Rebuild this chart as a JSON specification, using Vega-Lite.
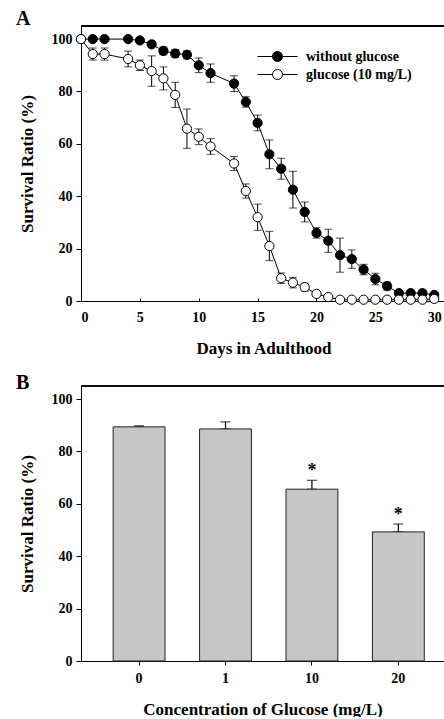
{
  "$schema": "https://vega.github.io/schema/vega-lite/v6.json",
  "padding": {"left": 16, "top": 8, "right": 0, "bottom": 0},
  "spacing": 16,
  "config": {
    "font": "Liberation Serif",
    "view": {"stroke": null},
    "axis": {
      "grid": false,
      "domainColor": "black",
      "tickColor": "black",
      "labelColor": "black",
      "titleColor": "black",
      "labelFont": "Liberation Serif",
      "titleFont": "Liberation Serif",
      "labelFontWeight": "bold",
      "titleFontWeight": "bold",
      "labelFontSize": 14,
      "titleFontSize": 17
    }
  },
  "vconcat": [
    {
      "title": {"text": "A", "anchor": "start", "frame": "group", "dx": -65, "offset": -3, "fontSize": 20, "fontWeight": "bold", "font": "Liberation Serif", "color": "black"},
      "width": 365,
      "height": 275,
      "data": {
        "values": [
          {"series": "without glucose", "day": 0, "ratio": 100, "err": 0},
          {"series": "without glucose", "day": 1, "ratio": 100, "err": 0},
          {"series": "without glucose", "day": 2, "ratio": 100, "err": 0},
          {"series": "without glucose", "day": 4, "ratio": 100, "err": 0.5},
          {"series": "without glucose", "day": 5, "ratio": 99.5, "err": 0.5},
          {"series": "without glucose", "day": 6, "ratio": 98, "err": 1},
          {"series": "without glucose", "day": 7, "ratio": 95.5, "err": 1.5},
          {"series": "without glucose", "day": 8, "ratio": 94.5, "err": 1.5},
          {"series": "without glucose", "day": 9, "ratio": 94, "err": 1.5},
          {"series": "without glucose", "day": 10, "ratio": 90, "err": 2.8},
          {"series": "without glucose", "day": 11, "ratio": 87, "err": 3.5},
          {"series": "without glucose", "day": 13, "ratio": 83, "err": 3},
          {"series": "without glucose", "day": 14, "ratio": 76, "err": 2},
          {"series": "without glucose", "day": 15, "ratio": 68, "err": 3},
          {"series": "without glucose", "day": 16, "ratio": 56, "err": 5.5},
          {"series": "without glucose", "day": 17, "ratio": 50.5, "err": 4},
          {"series": "without glucose", "day": 18, "ratio": 42.5, "err": 7},
          {"series": "without glucose", "day": 19, "ratio": 34, "err": 3.8},
          {"series": "without glucose", "day": 20, "ratio": 26, "err": 2},
          {"series": "without glucose", "day": 21, "ratio": 23, "err": 4.4},
          {"series": "without glucose", "day": 22, "ratio": 17.5, "err": 6.5},
          {"series": "without glucose", "day": 23, "ratio": 16, "err": 3.5},
          {"series": "without glucose", "day": 24, "ratio": 12, "err": 2},
          {"series": "without glucose", "day": 25, "ratio": 8.4, "err": 2.2},
          {"series": "without glucose", "day": 26, "ratio": 5.7, "err": 1.5},
          {"series": "without glucose", "day": 27, "ratio": 3, "err": 1},
          {"series": "without glucose", "day": 28, "ratio": 3, "err": 1},
          {"series": "without glucose", "day": 29, "ratio": 3, "err": 1},
          {"series": "without glucose", "day": 30, "ratio": 2.3, "err": 1},
          {"series": "glucose (10 mg/L)", "day": 0, "ratio": 100, "err": 0},
          {"series": "glucose (10 mg/L)", "day": 1, "ratio": 94.3, "err": 2.3},
          {"series": "glucose (10 mg/L)", "day": 2, "ratio": 94.3, "err": 2.3},
          {"series": "glucose (10 mg/L)", "day": 4, "ratio": 92.4, "err": 3},
          {"series": "glucose (10 mg/L)", "day": 5, "ratio": 90, "err": 2},
          {"series": "glucose (10 mg/L)", "day": 6, "ratio": 87.8, "err": 5.8},
          {"series": "glucose (10 mg/L)", "day": 7, "ratio": 85, "err": 4.4},
          {"series": "glucose (10 mg/L)", "day": 8, "ratio": 78.7, "err": 4.8},
          {"series": "glucose (10 mg/L)", "day": 9, "ratio": 65.8, "err": 7.5},
          {"series": "glucose (10 mg/L)", "day": 10, "ratio": 62.7, "err": 3},
          {"series": "glucose (10 mg/L)", "day": 11, "ratio": 59, "err": 3},
          {"series": "glucose (10 mg/L)", "day": 13, "ratio": 52.5, "err": 2.7},
          {"series": "glucose (10 mg/L)", "day": 14, "ratio": 42, "err": 2.7},
          {"series": "glucose (10 mg/L)", "day": 15, "ratio": 32, "err": 5},
          {"series": "glucose (10 mg/L)", "day": 16, "ratio": 21, "err": 5.6},
          {"series": "glucose (10 mg/L)", "day": 17, "ratio": 8.7, "err": 2},
          {"series": "glucose (10 mg/L)", "day": 18, "ratio": 7, "err": 2},
          {"series": "glucose (10 mg/L)", "day": 19, "ratio": 5.3, "err": 1.5},
          {"series": "glucose (10 mg/L)", "day": 20, "ratio": 2.7, "err": 1},
          {"series": "glucose (10 mg/L)", "day": 21, "ratio": 1.5, "err": 0.5},
          {"series": "glucose (10 mg/L)", "day": 22, "ratio": 0.5, "err": 0},
          {"series": "glucose (10 mg/L)", "day": 23, "ratio": 0.5, "err": 0},
          {"series": "glucose (10 mg/L)", "day": 24, "ratio": 0.5, "err": 0},
          {"series": "glucose (10 mg/L)", "day": 25, "ratio": 0.5, "err": 0},
          {"series": "glucose (10 mg/L)", "day": 26, "ratio": 0.5, "err": 0},
          {"series": "glucose (10 mg/L)", "day": 27, "ratio": 0.5, "err": 0},
          {"series": "glucose (10 mg/L)", "day": 28, "ratio": 0.5, "err": 0},
          {"series": "glucose (10 mg/L)", "day": 29, "ratio": 0.5, "err": 0},
          {"series": "glucose (10 mg/L)", "day": 30, "ratio": 0.8, "err": 0}
        ]
      },
      "layer": [
        {
          "mark": {"type": "rule", "stroke": "black", "strokeWidth": 1},
          "encoding": {"y": {"datum": 105, "type": "quantitative", "title": "Survival Ratio (%)", "scale": {"domain": [0, 105], "nice": false}}}
        },
        {
          "mark": {"type": "line", "stroke": "black", "strokeWidth": 1},
          "encoding": {
            "x": {"field": "day", "type": "quantitative", "title": "Days in Adulthood", "scale": {"domain": [0, 31], "nice": false},
              "axis": {"values": [0, 5, 10, 15, 20, 25, 30], "tickSize": -3, "labelPadding": 12, "titlePadding": 16}},
            "y": {"field": "ratio", "type": "quantitative", "title": "Survival Ratio (%)", "scale": {"domain": [0, 105], "nice": false},
              "axis": {"values": [0, 20, 40, 60, 80, 100], "tickSize": 5, "labelPadding": 4, "titlePadding": 15}},
            "detail": {"field": "series"}
          }
        },
        {
          "mark": {"type": "errorbar", "ticks": {"size": 8, "thickness": 1, "color": "black"}, "rule": {"strokeWidth": 1, "color": "black"}},
          "encoding": {
            "x": {"field": "day", "type": "quantitative", "title": "Days in Adulthood"},
            "y": {"field": "ratio", "type": "quantitative", "title": "Survival Ratio (%)"},
            "yError": {"field": "err"},
            "detail": {"field": "series"}
          }
        },
        {
          "mark": {"type": "point", "shape": "circle", "filled": true, "size": 85, "stroke": "black", "strokeWidth": 1, "opacity": 1},
          "encoding": {
            "x": {"field": "day", "type": "quantitative", "title": "Days in Adulthood"},
            "y": {"field": "ratio", "type": "quantitative", "title": "Survival Ratio (%)"},
            "fill": {"field": "series", "type": "nominal",
              "scale": {"domain": ["without glucose", "glucose (10 mg/L)"], "range": ["black", "white"]},
              "legend": {"title": null, "orient": "none", "legendX": 186, "legendY": 20,
                "symbolType": "M-2,0L-0.5,0M0.5,0L2,0M-0.5,0A0.5,0.5,0,1,0,0.5,0A0.5,0.5,0,1,0,-0.5,0Z",
                "symbolSize": 400, "symbolStrokeColor": "black", "symbolStrokeWidth": 1,
                "labelFont": "Liberation Serif", "labelFontWeight": "bold", "labelFontSize": 14, "labelColor": "black",
                "labelOffset": 18, "rowPadding": 0}}
          }
        }
      ]
    },
    {
      "title": {"text": "B", "anchor": "start", "frame": "group", "dx": -65, "offset": -7, "fontSize": 20, "fontWeight": "bold", "font": "Liberation Serif", "color": "black"},
      "width": 363,
      "height": 275,
      "data": {
        "values": [
          {"conc": "0", "value": 89.4, "hi": 89.8, "sig": ""},
          {"conc": "1", "value": 88.6, "hi": 91.3, "sig": ""},
          {"conc": "10", "value": 65.6, "hi": 69.0, "sig": "*"},
          {"conc": "20", "value": 49.3, "hi": 52.3, "sig": "*"}
        ]
      },
      "encoding": {
        "x": {"field": "conc", "type": "ordinal", "sort": ["0", "1", "10", "20"], "title": "Concentration of Glucose (mg/L)",
          "scale": {"paddingInner": 0.4, "paddingOuter": 0.3, "align": 0.62},
          "axis": {"labelAngle": 0, "tickSize": 4, "labelPadding": 6, "titlePadding": 16}}
      },
      "layer": [
        {
          "mark": {"type": "rule", "stroke": "black", "strokeWidth": 1},
          "encoding": {"x": null, "y": {"datum": 105, "type": "quantitative", "title": "Survival Ratio (%)", "scale": {"domain": [0, 105], "nice": false}}}
        },
        {
          "mark": {"type": "errorbar", "ticks": {"size": 10, "thickness": 1.2, "color": "black"}, "rule": {"strokeWidth": 1.2, "color": "black"}},
          "encoding": {
            "y": {"field": "value", "type": "quantitative", "title": "Survival Ratio (%)"},
            "y2": {"field": "hi"}
          }
        },
        {
          "mark": {"type": "bar", "fill": "#c6c6c6", "stroke": "#222222", "strokeWidth": 1},
          "encoding": {
            "y": {"field": "value", "type": "quantitative", "title": "Survival Ratio (%)", "scale": {"domain": [0, 105], "nice": false},
              "axis": {"values": [0, 20, 40, 60, 80, 100], "tickSize": 5, "labelPadding": 4, "titlePadding": 15}}
          }
        },
        {
          "mark": {"type": "text", "dy": -9, "fontSize": 18, "fontWeight": "bold", "font": "Liberation Serif", "color": "black"},
          "encoding": {
            "y": {"field": "hi", "type": "quantitative", "title": "Survival Ratio (%)"},
            "text": {"field": "sig"}
          }
        }
      ]
    }
  ]
}
